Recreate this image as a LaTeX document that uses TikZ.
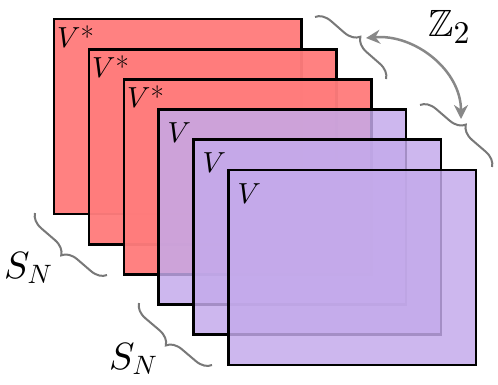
\documentclass[tikz,border=0pt]{standalone}
\usepackage{graphicx}
\usepackage{amssymb}
\DeclareFontShape{OML}{cmm}{m}{it}{<-> cmmi10}{}
\DeclareFontShape{OMS}{cmsy}{m}{n}{<-> cmsy10}{}
\DeclareFontShape{OT1}{cmr}{m}{n}{<-> cmr10}{}
\usetikzlibrary{decorations.pathreplacing,arrows.meta}
\definecolor{redfill}{RGB}{255,124,124}
\definecolor{purfill}{RGB}{196,170,235}
\definecolor{bracegray}{RGB}{120,120,120}
\definecolor{arrowgray}{RGB}{136,136,136}
\begin{document}
\begin{tikzpicture}[x=1pt,y=-1pt,
  sheet/.style={draw=black, line width=2.8pt, minimum width=247.5pt, minimum height=195pt, inner sep=0pt, outer sep=0pt, anchor=north west},
  redsheet/.style={sheet, fill=redfill, fill opacity=0.96},
  pursheet/.style={sheet, fill=purfill, fill opacity=0.84},
  lbl/.style={inner sep=0pt, anchor=base west, font=\fontsize{29}{31}\selectfont},
  biglbl/.style={inner sep=0pt, anchor=base west, font=\fontsize{38}{40}\selectfont},
  zlbl/.style={inner sep=0pt, anchor=base west, font=\fontsize{24.88}{26}\selectfont},
  brc/.style={draw=bracegray, line width=2pt, decorate, decoration={brace, amplitude=15pt}},
  arr/.style={draw=arrowgray, line width=2.5pt, {Stealth[length=14pt,width=14pt]}-{Stealth[length=14pt,width=14pt]}}
]
\useasboundingbox (0,0) rectangle (498,384);
\fill[white] (0,0) rectangle (498,384);

\node[redsheet] (r1) at (54,19) {};
\node[lbl] (l1) at ([shift={(3,28)}]r1.north west) {$V$*};
\node[redsheet] (r2) at (89,49.2) {};
\node[lbl] (l2) at ([shift={(3,28)}]r2.north west) {$V$*};
\node[redsheet] (r3) at (124,79.4) {};
\node[lbl] (l3) at ([shift={(3,28)}]r3.north west) {$V$*};
\node[pursheet] (r4) at (158.5,109.6) {};
\node[lbl] (l4) at ([shift={(9,33)}]r4.north west) {$V$};
\node[pursheet] (r5) at (193.5,139.8) {};
\node[lbl] (l5) at ([shift={(9,33)}]r5.north west) {$V$};
\node[pursheet] (r6) at (228.5,170) {};
\node[lbl] (l6) at ([shift={(9,33)}]r6.north west) {$V$};

% braces
\coordinate (b1s) at (315,17);
\coordinate (b1e) at (386,79);
\coordinate (b2s) at (420,105);
\coordinate (b2e) at (492,167);
\coordinate (b3s) at (107,275);
\coordinate (b3e) at (35,213);
\coordinate (b4s) at (212,365);
\coordinate (b4e) at (139,303);
\draw[brc] (b1s) -- (b1e);
\draw[brc] (b2s) -- (b2e);
\draw[brc] (b3s) -- (b3e);
\draw[brc] (b4s) -- (b4e);

% arrow
\coordinate (z1) at (366,38);
\coordinate (z2) at (461,119);
\draw[arr] (z1) to[out=5,in=90] (z2);

\node[zlbl] (zz) at (428,36) {\scalebox{1.527}{$\mathbb{Z}_2$}};
\node[biglbl] (s1) at (4,278) {$S_N$};
\node[biglbl] (s2) at (109,369) {$S_N$};
\end{tikzpicture}
\end{document}
